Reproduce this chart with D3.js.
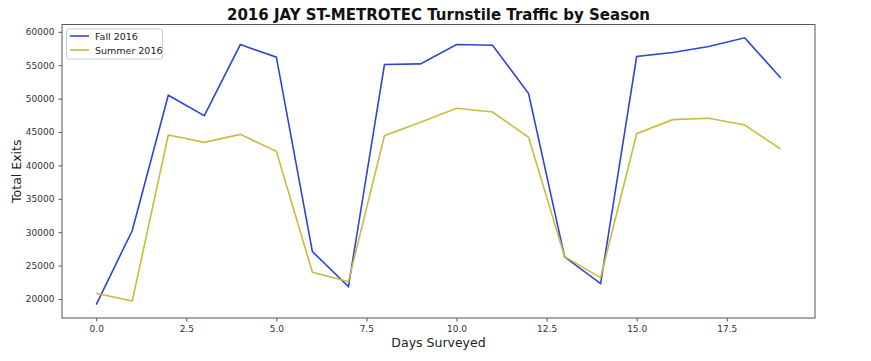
<!DOCTYPE html>
<html><head><meta charset="utf-8">
<script src="https://cdn.jsdelivr.net/npm/d3@7"></script>
<style>body{margin:0;background:#fff;}svg{display:block;font-family:"DejaVu Sans",sans-serif;}</style>
</head><body>
<svg id="c" width="871" height="361"></svg>
<script>
const days = d3.range(20);
const fall2016 = [19150, 30250, 50500, 47450, 58100, 56200, 27100, 21850, 55100, 55200, 58100, 58000, 50750, 26300, 22300, 56300, 56900, 57800, 59100, 53100];
const summer2016 = [20850, 19700, 44550, 43450, 44650, 42100, 24000, 22600, 44450, 46450, 48550, 48000, 44200, 26350, 23200, 44750, 46850, 47050, 46050, 42450];
const seriesNames = ["Fall 2016", "Summer 2016"];
const seriesColors = ["#2f45d8", "#c8bd3c"];
const xTicks = [0, 2.5, 5, 7.5, 10, 12.5, 15, 17.5];
const yTicks = [20000, 25000, 30000, 35000, 40000, 45000, 50000, 55000, 60000];
const titleText = "2016 JAY ST-METROTEC Turnstile Traffic by Season";

const svg = d3.select("#c");
const L = 62, R = 815, T = 24.5, B = 318;
const allV = fall2016.concat(summer2016);
const yMin = d3.min(allV), yMax = d3.max(allV), yPad = (yMax - yMin) * 0.05;
const x = d3.scaleLinear().domain([-0.95, 19.95]).range([L, R]);
const y = d3.scaleLinear().domain([yMin - yPad, yMax + yPad]).range([B, T]);

const line = d3.line().x((d, i) => x(days[i])).y(d => y(d));
[fall2016, summer2016].forEach((s, k) => {
  svg.append("path").datum(s).attr("d", line).attr("fill", "none")
    .attr("stroke", seriesColors[k]).attr("stroke-width", 1.6);
});

// frame
svg.append("rect").attr("x", L).attr("y", T).attr("width", R - L).attr("height", B - T)
  .attr("fill", "none").attr("stroke", "#555").attr("stroke-width", 1);

const xa = svg.append("g").attr("transform", `translate(0,${B})`)
  .call(d3.axisBottom(x).tickValues(xTicks).tickFormat(d3.format(".1f")).tickSize(3.5).tickPadding(4));
const ya = svg.append("g").attr("transform", `translate(${L},0)`)
  .call(d3.axisLeft(y).tickValues(yTicks).tickFormat(d3.format("d")).tickSize(3.5).tickPadding(4));
[xa, ya].forEach(a => {
  a.select(".domain").remove();
  a.selectAll("line").attr("stroke", "#555");
  a.selectAll("text").attr("fill", "#333").style("font-size", "9px").style("font-family", "DejaVu Sans");
});

svg.append("text").attr("x", (L + R) / 2).attr("y", 19.5).attr("text-anchor", "middle")
  .style("font-size", "15px").style("font-weight", "bold").attr("fill", "#111").text(titleText);
svg.append("text").attr("x", (L + R) / 2).attr("y", 347).attr("text-anchor", "middle")
  .style("font-size", "12.5px").attr("fill", "#222").text("Days Surveyed");
svg.append("text").attr("transform", `translate(21,${(T + B) / 2}) rotate(-90)`).attr("text-anchor", "middle")
  .style("font-size", "12.5px").attr("fill", "#222").text("Total Exits");

// legend
const lg = svg.append("g");
lg.append("rect").attr("x", 66.5).attr("y", 29).attr("width", 96).attr("height", 30).attr("rx", 2)
  .attr("fill", "#fff").attr("fill-opacity", 0.8).attr("stroke", "#ccc");
seriesNames.forEach((n, i) => {
  const yy = 36 + i * 14;
  lg.append("line").attr("x1", 70).attr("x2", 89).attr("y1", yy).attr("y2", yy)
    .attr("stroke", seriesColors[i]).attr("stroke-width", 1.6);
  lg.append("text").attr("x", 95).attr("y", yy + 3.5).style("font-size", "9.5px").attr("fill", "#222").text(n);
});
</script>
</body></html>
